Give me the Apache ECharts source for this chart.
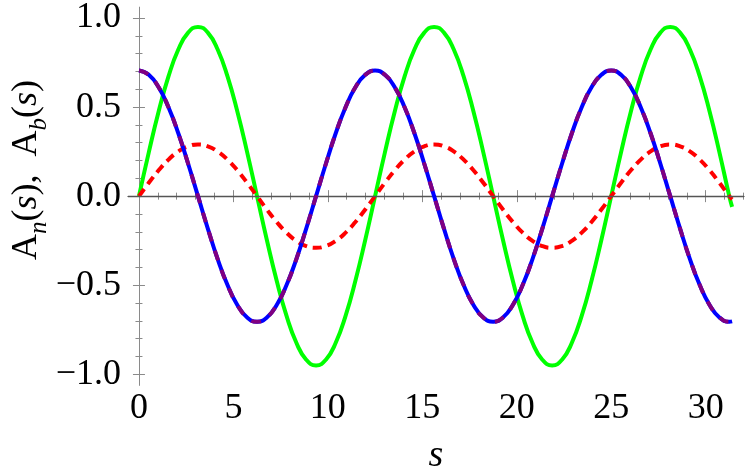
<!DOCTYPE html>
<html lang="en">

<head>
    <meta charset="UTF-8">
    <title>A_n(s), A_b(s)</title>
    <script src="https://cdn.jsdelivr.net/npm/echarts@6.0.0/dist/echarts.min.js"></script>
    <style>
        html, body { margin: 0; padding: 0; background: #fff; }
    </style>
</head>

<body>
    <div id="container" style="width: 747px; height: 473px"></div>
    <script>
        var sValues = [0, 0.521, 1.042, 1.563, 2.083, 2.604, 3.125, 3.646, 4.167, 4.688, 5.208, 5.729,
            6.25, 6.771, 7.292, 7.813, 8.333, 8.854, 9.375, 9.896, 10.417, 10.938, 11.458, 11.979,
            12.5, 13.021, 13.542, 14.063, 14.583, 15.104, 15.625, 16.146, 16.667, 17.188, 17.708, 18.229,
            18.75, 19.271, 19.792, 20.313, 20.833, 21.354, 21.875, 22.396, 22.917, 23.438, 23.958, 24.479,
            25, 25.521, 26.042, 26.563, 27.083, 27.604, 28.125, 28.646, 29.167, 29.688, 30.208, 30.729,
            31.25, 31.4];

        var greenVals = [0, 0.246, 0.475, 0.672, 0.823, 0.918, 0.95, 0.918, 0.823, 0.672, 0.475, 0.246,
            0, -0.246, -0.475, -0.672, -0.823, -0.918, -0.95, -0.918, -0.823, -0.672, -0.475, -0.246,
            0, 0.246, 0.475, 0.672, 0.823, 0.918, 0.95, 0.918, 0.823, 0.672, 0.475, 0.246,
            0, -0.246, -0.475, -0.672, -0.823, -0.918, -0.95, -0.918, -0.823, -0.672, -0.475, -0.246,
            0, 0.246, 0.475, 0.672, 0.823, 0.918, 0.95, 0.918, 0.823, 0.672, 0.475, 0.246,
            0, -0.06];

        var redVals = [0, 0.075, 0.145, 0.205, 0.251, 0.280, 0.29, 0.280, 0.251, 0.205, 0.145, 0.075,
            0, -0.075, -0.145, -0.205, -0.251, -0.280, -0.29, -0.280, -0.251, -0.205, -0.145, -0.075,
            0, 0.075, 0.145, 0.205, 0.251, 0.280, 0.29, 0.280, 0.251, 0.205, 0.145, 0.075,
            0, -0.075, -0.145, -0.205, -0.251, -0.280, -0.29, -0.280, -0.251, -0.205, -0.145, -0.075,
            0, 0.075, 0.145, 0.205, 0.251, 0.280, 0.29, 0.280, 0.251, 0.205, 0.145, 0.075,
            0, -0.018];

        var blueVals = [0.705, 0.681, 0.611, 0.499, 0.353, 0.182, 0, -0.182, -0.353, -0.499, -0.611, -0.681,
            -0.705, -0.681, -0.611, -0.499, -0.353, -0.182, 0, 0.182, 0.353, 0.499, 0.611, 0.681,
            0.705, 0.681, 0.611, 0.499, 0.353, 0.182, 0, -0.182, -0.353, -0.499, -0.611, -0.681,
            -0.705, -0.681, -0.611, -0.499, -0.353, -0.182, 0, 0.182, 0.353, 0.499, 0.611, 0.681,
            0.705, 0.681, 0.611, 0.499, 0.353, 0.182, 0, -0.182, -0.353, -0.499, -0.611, -0.681,
            -0.705, -0.703];

        var purpleVals = [0.705, 0.681, 0.611, 0.499, 0.353, 0.182, 0, -0.182, -0.353, -0.499, -0.611, -0.681,
            -0.705, -0.681, -0.611, -0.499, -0.353, -0.182, 0, 0.182, 0.353, 0.499, 0.611, 0.681,
            0.705, 0.681, 0.611, 0.499, 0.353, 0.182, 0, -0.182, -0.353, -0.499, -0.611, -0.681,
            -0.705, -0.681, -0.611, -0.499, -0.353, -0.182, 0, 0.182, 0.353, 0.499, 0.611, 0.681,
            0.705, 0.681, 0.611, 0.499, 0.353, 0.182, 0, -0.182, -0.353, -0.499, -0.611, -0.681,
            -0.705, -0.703];

        var xMajor = [0, 5, 10, 15, 20, 25, 30];
        var xMinor = [0, 1, 2, 3, 4, 5, 6, 7, 8, 9, 10, 11, 12, 13, 14, 15, 16, 17, 18, 19, 20,
            21, 22, 23, 24, 25, 26, 27, 28, 29, 30, 31, 32];
        var yMajor = [-1, -0.5, 0, 0.5, 1];
        var yMinor = [-1, -0.9, -0.8, -0.7, -0.6, -0.5, -0.4, -0.3, -0.2, -0.1, 0,
            0.1, 0.2, 0.3, 0.4, 0.5, 0.6, 0.7, 0.8, 0.9, 1];

        var font = 'Liberation Serif';
        var frameColor = '#8a8a8a';

        function pairs(vals) {
            var out = [];
            for (let i = 0; i < sValues.length; i++) {
                out.push([sValues[i], vals[i]]);
            }
            return out;
        }

        function xAxisDef(pos, ticks, len, labels) {
            return {
                type: 'value', position: pos, min: -0.58, max: 32.03,
                axisLine: { show: labels !== null || pos === 'top', lineStyle: { color: frameColor, width: 1 } },
                axisTick: { show: true, inside: true, length: len, customValues: ticks, lineStyle: { color: frameColor, width: 1 } },
                axisLabel: labels ? {
                    show: true, customValues: labels, fontFamily: font, fontSize: 36, color: '#000', margin: 6
                } : { show: false },
                splitLine: { show: false }
            };
        }

        function yAxisDef(pos, ticks, len, labels) {
            return {
                type: 'value', position: pos, min: -1.06, max: 1.06,
                axisLine: { show: labels !== null || pos === 'right', lineStyle: { color: frameColor, width: 1 } },
                axisTick: { show: true, inside: true, length: len, customValues: ticks, lineStyle: { color: frameColor, width: 1 } },
                axisLabel: labels ? {
                    show: true, customValues: labels, fontFamily: font, fontSize: 36, color: '#000', margin: 7,
                    formatter: function (v) {
                        var t = Math.abs(v).toFixed(1);
                        return v < 0 ? '\u2212' + t : t;
                    }
                } : { show: false },
                splitLine: { show: false }
            };
        }

        var chartDom = document.getElementById('container');
        var myChart = echarts.init(chartDom, null, { renderer: 'canvas' });

        myChart.setOption({
            animation: false,
            backgroundColor: '#fff',
            grid: { left: 128, right: 3, top: 5, bottom: 88 },
            xAxis: [
                xAxisDef('bottom', xMajor, 6, xMajor),
                xAxisDef('bottom', xMinor, 3.5, null),
                xAxisDef('top', xMajor, 6, null),
                xAxisDef('top', xMinor, 3.5, null)
            ],
            yAxis: [
                yAxisDef('left', yMajor, 6, yMajor),
                yAxisDef('left', yMinor, 3.5, null),
                yAxisDef('right', yMajor, 6, null),
                yAxisDef('right', yMinor, 3.5, null)
            ],
            graphic: [
                {
                    type: 'text', x: 28, y: 170, rotation: Math.PI / 2,
                    style: {
                        text: '{a|A}{sub|n}{a|(}{i|s}{a|),  A}{sub|b}{a|(}{i|s}{a|)}',
                        align: 'center', verticalAlign: 'middle',
                        rich: {
                            a: { fontFamily: font, fontSize: 36, lineHeight: 38, verticalAlign: 'top', fill: '#000' },
                            i: { fontFamily: font, fontSize: 36, fontStyle: 'italic', lineHeight: 38, verticalAlign: 'top', fill: '#000' },
                            sub: { fontFamily: font, fontSize: 25, fontStyle: 'italic', lineHeight: 25, padding: [18, 0, 0, 0], verticalAlign: 'top', fill: '#000' }
                        }
                    }
                },
                {
                    type: 'text', x: 436, y: 456,
                    style: {
                        text: 's', fontFamily: font, fontSize: 38, fontStyle: 'italic', fill: '#000',
                        align: 'center', verticalAlign: 'middle'
                    }
                }
            ],
            series: [
                {
                    type: 'line', data: [], silent: true, z: 1,
                    markLine: {
                        silent: true, symbol: 'none', label: { show: false },
                        lineStyle: { color: '#555', width: 1.3, type: 'solid' },
                        data: [{ yAxis: 0 }]
                    }
                },
                {
                    name: 'green', type: 'line', data: pairs(greenVals), smooth: true, showSymbol: false, z: 3,
                    lineStyle: { color: '#00ff00', width: 4 }
                },
                {
                    name: 'red', type: 'line', data: pairs(redVals), smooth: true, showSymbol: false, z: 4,
                    lineStyle: { color: '#ff0000', width: 4, type: [9, 6] }
                },
                {
                    name: 'blue', type: 'line', data: pairs(blueVals), smooth: true, showSymbol: false, z: 5,
                    lineStyle: { color: '#0000ff', width: 4 }
                },
                {
                    name: 'purple', type: 'line', data: pairs(purpleVals), smooth: true, showSymbol: false, z: 6,
                    lineStyle: { color: '#800080', width: 4, type: [10, 10] }
                }
            ]
        });
    </script>
</body>

</html>
